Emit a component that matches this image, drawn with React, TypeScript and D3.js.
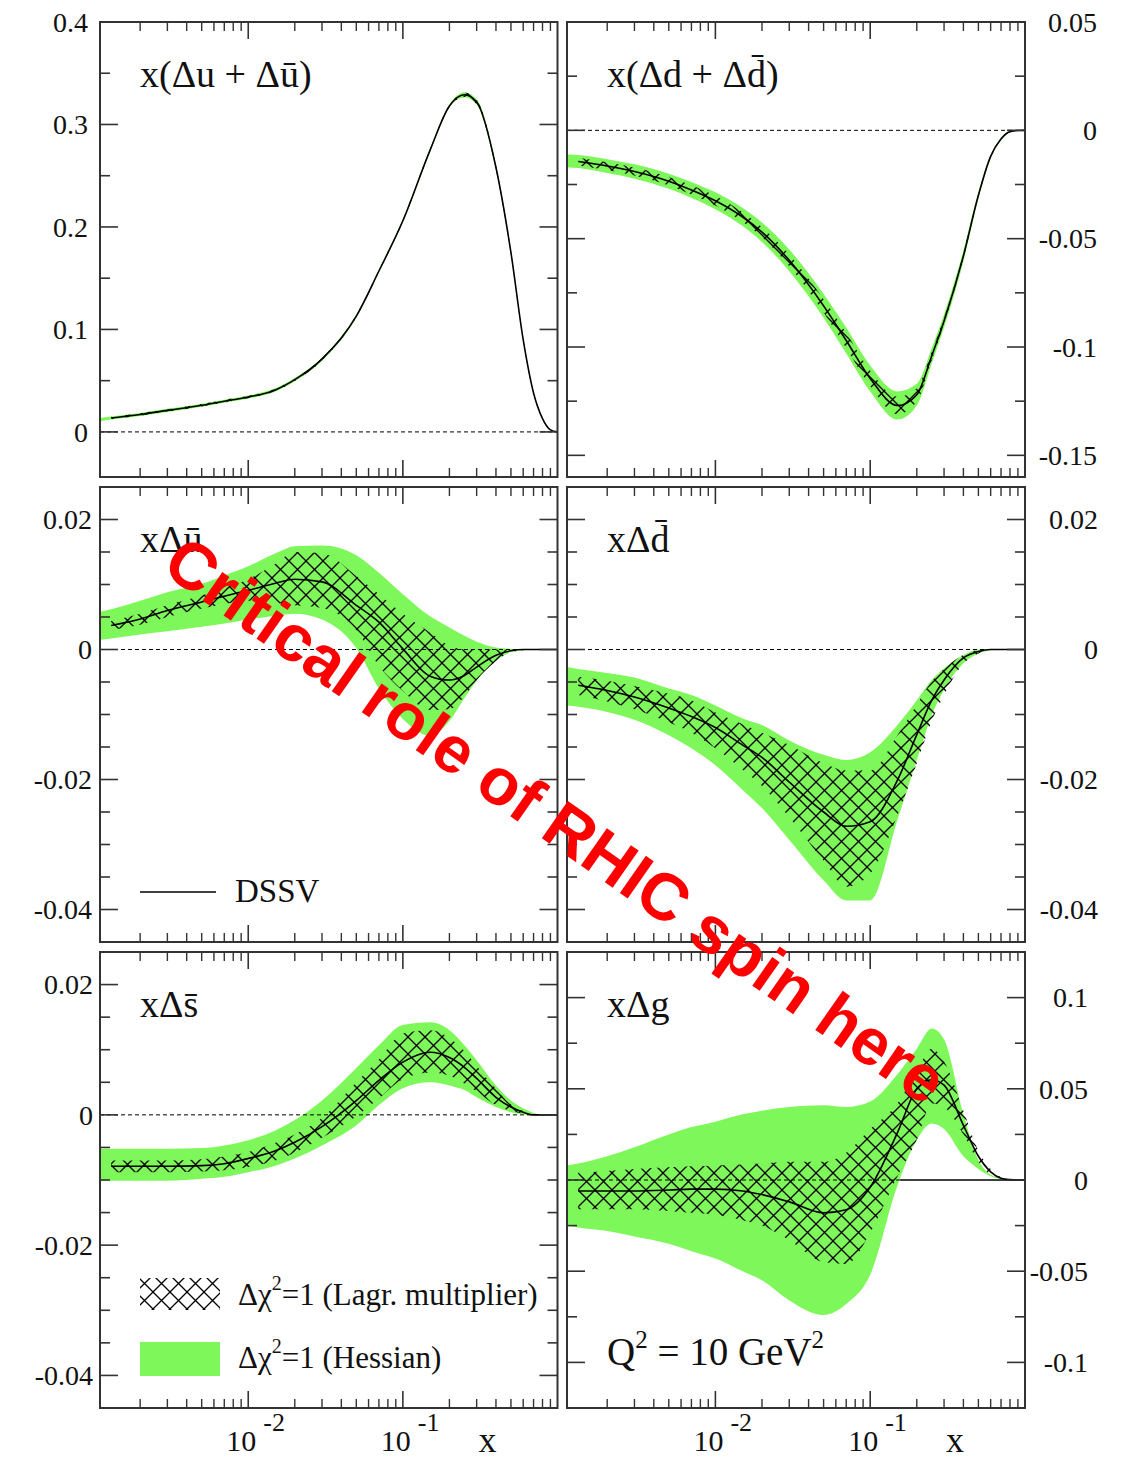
import React from "react";
import * as d3 from "d3";

const W = 1121;
const H = 1459;
const GREEN = "#7ef75a";
const SERIF = "'Liberation Serif', 'Times New Roman', serif";

// x grid shared by all panels
const X_GRID = [0.0011, 0.0013, 0.002, 0.003, 0.005, 0.007, 0.01, 0.015, 0.02, 0.03, 0.05, 0.07, 0.1, 0.15, 0.2, 0.25, 0.3, 0.4, 0.5, 0.6, 0.7, 0.8, 0.9, 1.0];
const X_MIN = 0.0011;
const X_MAX = 1;
const X_MAJOR = [0.01, 0.1];
const X_DECADES = [0.001, 0.01, 0.1];

// x(Δu + Δū)
const UU_CENTRAL = [null, 0.0135, 0.017, 0.021, 0.026, 0.03, 0.034, 0.041, 0.051, 0.071, 0.113, 0.157, 0.206, 0.275, 0.318, 0.329, 0.322, 0.258, 0.175, 0.09, 0.038, 0.013, 0.002, 0];
const UU_HESS_HI = [0.0135, 0.015, 0.0185, 0.0225, 0.0275, 0.0315, 0.0355, 0.0425, 0.0525, 0.0725, 0.1145, 0.1585, 0.2075, 0.2765, 0.3195, 0.3315, 0.3245, 0.2605, 0.177, 0.0915, 0.039, 0.0135, 0.0023, 0];
const UU_HESS_LO = [0.0105, 0.012, 0.0155, 0.0195, 0.0245, 0.0285, 0.0325, 0.0395, 0.0495, 0.0695, 0.1115, 0.1555, 0.2045, 0.2735, 0.3165, 0.3265, 0.3195, 0.2555, 0.173, 0.0885, 0.037, 0.0125, 0.0017, 0];
const UU_LAGR_HI = [null, 0.0147, 0.0182, 0.0222, 0.0272, 0.0312, 0.0352, 0.0422, 0.0522, 0.0722, 0.1142, 0.1582, 0.2072, 0.2762, 0.3192, 0.3312, 0.3242, 0.2602, 0.1765, 0.0912, 0.0388, 0.0134, 0.0023, 0];
const UU_LAGR_LO = [null, 0.0123, 0.0158, 0.0198, 0.0248, 0.0288, 0.0328, 0.0398, 0.0498, 0.0698, 0.1118, 0.1558, 0.2048, 0.2738, 0.3168, 0.3268, 0.3198, 0.2558, 0.1735, 0.0888, 0.0372, 0.0126, 0.0017, 0];

// x(Δd + Δd̄)
const DD_CENTRAL = [null, -0.0144, -0.0165, -0.019, -0.0235, -0.0275, -0.0325, -0.04, -0.047, -0.06, -0.081, -0.097, -0.1145, -0.127, -0.122, -0.104, -0.088, -0.058, -0.03, -0.012, -0.004, -0.0006, -0.0001, 0];
const DD_HESS_HI = [-0.011, -0.0114, -0.0133, -0.0157, -0.02, -0.0238, -0.0286, -0.0358, -0.0425, -0.055, -0.0755, -0.091, -0.1085, -0.1205, -0.117, -0.1005, -0.085, -0.0555, -0.0285, -0.0112, -0.0035, -0.0004, 0, 0];
const DD_HESS_LO = [-0.017, -0.0174, -0.0197, -0.0223, -0.027, -0.0312, -0.0364, -0.0442, -0.0515, -0.065, -0.0865, -0.103, -0.1205, -0.1335, -0.127, -0.1075, -0.091, -0.0605, -0.0315, -0.0128, -0.0045, -0.0008, -0.0002, 0];
const DD_LAGR_HI = [null, -0.0126, -0.0147, -0.0171, -0.0215, -0.0254, -0.0303, -0.0378, -0.0447, -0.0573, -0.078, -0.0935, -0.111, -0.123, -0.119, -0.102, -0.0865, -0.0568, -0.0292, -0.0116, -0.0037, -0.0005, -0.0001, 0];
const DD_LAGR_LO = [null, -0.0162, -0.0183, -0.0209, -0.0255, -0.0296, -0.0347, -0.0422, -0.0493, -0.0627, -0.084, -0.1005, -0.118, -0.131, -0.125, -0.106, -0.0895, -0.0592, -0.0308, -0.0124, -0.0043, -0.0007, -0.0001, 0];

// xΔū
const UB_CENTRAL = [null, 0.0037, 0.0047, 0.006, 0.0073, 0.0082, 0.0091, 0.0102, 0.0108, 0.0104, 0.0068, 0.0042, 0.0001, -0.0041, -0.0047, -0.004, -0.0027, -0.0009, -0.0002, 0, 0, 0, 0, 0];
const UB_HESS_HI = [0.0058, 0.0062, 0.0075, 0.0088, 0.0101, 0.0114, 0.0128, 0.0148, 0.0159, 0.016, 0.0145, 0.0118, 0.0085, 0.0051, 0.0034, 0.0021, 0.0012, 0.0003, 0.0001, 0, 0, 0, 0, 0];
const UB_HESS_LO = [0.0015, 0.0017, 0.0023, 0.0028, 0.0035, 0.004, 0.0046, 0.0052, 0.0055, 0.0046, 0.0002, -0.006, -0.0107, -0.0133, -0.011, -0.0075, -0.0048, -0.0017, -0.0004, -0.0001, 0, 0, 0, 0];
const UB_LAGR_HI = [null, 0.0044, 0.0055, 0.0068, 0.0083, 0.0095, 0.0108, 0.0132, 0.015, 0.0148, 0.0113, 0.0085, 0.0055, 0.0026, 0.0006, 0, 0, 0, 0, 0, 0, 0, 0, 0];
const UB_LAGR_LO = [null, 0.003, 0.0038, 0.005, 0.0063, 0.007, 0.0075, 0.0072, 0.0068, 0.0064, 0.003, -0.0025, -0.0064, -0.0093, -0.0092, -0.0072, -0.0047, -0.0018, -0.0004, -0.0001, 0, 0, 0, 0];

// xΔd̄
const DB_CENTRAL = [null, -0.0055, -0.0063, -0.0073, -0.009, -0.0103, -0.012, -0.0147, -0.0166, -0.0204, -0.025, -0.0272, -0.0265, -0.0201, -0.0131, -0.0078, -0.0047, -0.0013, -0.0003, 0, 0, 0, 0, 0];
const DB_HESS_HI = [-0.0027, -0.003, -0.0036, -0.0043, -0.006, -0.007, -0.0086, -0.0106, -0.0116, -0.014, -0.0162, -0.017, -0.0158, -0.0116, -0.0078, -0.0047, -0.0029, -0.0009, 0, 0, 0, 0, 0, 0];
const DB_HESS_LO = [-0.0086, -0.0088, -0.0096, -0.0108, -0.0132, -0.0152, -0.0178, -0.0216, -0.0244, -0.0293, -0.0355, -0.0386, -0.0386, -0.0262, -0.017, -0.0101, -0.0062, -0.0021, -0.0006, -0.0001, 0, 0, 0, 0];
const DB_LAGR_HI = [null, -0.0042, -0.0048, -0.0056, -0.0068, -0.0078, -0.0097, -0.0115, -0.0128, -0.0147, -0.0175, -0.0186, -0.0186, -0.0132, -0.0085, -0.0049, -0.003, -0.0008, -0.0001, 0, 0, 0, 0, 0];
const DB_LAGR_LO = [null, -0.007, -0.008, -0.0092, -0.0112, -0.0128, -0.0152, -0.0185, -0.021, -0.0258, -0.0325, -0.0365, -0.0345, -0.0255, -0.0175, -0.011, -0.007, -0.0022, -0.0006, 0, 0, 0, 0, 0];

// xΔs̄
const SB_CENTRAL = [null, -0.0079, -0.0079, -0.0079, -0.0078, -0.0075, -0.0067, -0.0055, -0.0042, -0.0018, 0.0022, 0.0053, 0.0081, 0.0096, 0.0088, 0.0073, 0.0056, 0.0027, 0.0012, 0.0004, 0, 0, 0, 0];
const SB_HESS_HI = [-0.0052, -0.0052, -0.0052, -0.0052, -0.0051, -0.0047, -0.0039, -0.0024, -0.0008, 0.0022, 0.0072, 0.0107, 0.0138, 0.0142, 0.013, 0.0107, 0.0084, 0.0045, 0.0022, 0.001, 0.0003, 0, 0, 0];
const SB_HESS_LO = [-0.0101, -0.0101, -0.0101, -0.0101, -0.0098, -0.0095, -0.0088, -0.0078, -0.0067, -0.0047, -0.0016, 0.0015, 0.0041, 0.005, 0.0045, 0.0038, 0.0027, 0.0012, 0.0004, 0.0001, 0, 0, 0, 0];
const SB_LAGR_HI = [null, -0.007, -0.007, -0.007, -0.0068, -0.0064, -0.0057, -0.0043, -0.003, -0.0005, 0.005, 0.0085, 0.0125, 0.013, 0.0118, 0.0098, 0.0075, 0.004, 0.0016, 0.0006, 0.0001, 0, 0, 0];
const SB_LAGR_LO = [null, -0.0088, -0.0088, -0.0088, -0.0087, -0.0085, -0.008, -0.007, -0.0058, -0.0035, -0.0002, 0.0025, 0.0055, 0.0065, 0.006, 0.0048, 0.0036, 0.0015, 0.0006, 0.0002, 0, 0, 0, 0];

// xΔg
const G_CENTRAL = [null, -0.006, -0.006, -0.006, -0.0055, -0.005, -0.005, -0.006, -0.008, -0.012, -0.018, -0.0163, -0.004, 0.026, 0.05, 0.055, 0.052, 0.03, 0.013, 0.0045, 0.001, 0.0002, 0, 0];
const G_HESS_HI = [0.008, 0.009, 0.013, 0.018, 0.025, 0.029, 0.032, 0.036, 0.038, 0.04, 0.041, 0.04, 0.043, 0.058, 0.072, 0.083, 0.077, 0.036, 0.011, 0.003, 0.001, 0, 0, 0];
const G_HESS_LO = [-0.025, -0.026, -0.028, -0.031, -0.035, -0.039, -0.043, -0.05, -0.055, -0.066, -0.074, -0.068, -0.052, -0.003, 0.022, 0.031, 0.028, 0.013, 0.006, 0.002, 0.0005, 0, 0, 0];
const G_LAGR_HI = [null, 0.004, 0.005, 0.006, 0.007, 0.0075, 0.008, 0.0085, 0.009, 0.01, 0.01, 0.015, 0.028, 0.042, 0.06, 0.072, 0.065, 0.038, 0.016, 0.006, 0.0015, 0.0003, 0, 0];
const G_LAGR_LO = [null, -0.016, -0.016, -0.016, -0.017, -0.018, -0.019, -0.022, -0.025, -0.033, -0.045, -0.046, -0.029, 0.002, 0.022, 0.042, 0.04, 0.025, 0.01, 0.003, 0.0008, 0, 0, 0];
const G_ZERO_SOLID_FROM = 0.156;

// y ticks
const TICKS_UU = [0, 0.1, 0.2, 0.3, 0.4];
const LABELS_UU = ["0", "0.1", "0.2", "0.3", "0.4"];
const TICKS_DD = [-0.15, -0.1, -0.05, 0, 0.05];
const LABELS_DD = ["-0.15", "-0.1", "-0.05", "0", "0.05"];
const TICKS_SEA = [-0.04, -0.02, 0, 0.02];
const LABELS_SEA = ["-0.04", "-0.02", "0", "0.02"];
const TICKS_G = [-0.1, -0.05, 0, 0.05, 0.1];
const LABELS_G = ["-0.1", "-0.05", "0", "0.05", "0.1"];

const COLS = [{ x0: 100, x1: 557.5 }, { x0: 567, x1: 1025 }];
const ROWS = [{ y0: 22, y1: 477 }, { y0: 487, y1: 942 }, { y0: 952, y1: 1408 }];

const PANELS = [
  { id: "uu", col: 0, row: 0, label: "x(Δu + Δū)", yDomain: [-0.044, 0.4], ticks: TICKS_UU, tickLabels: LABELS_UU, minor: 0.05, labelX: -12,
    central: UU_CENTRAL, hessHi: UU_HESS_HI, hessLo: UU_HESS_LO, lagrHi: UU_LAGR_HI, lagrLo: UU_LAGR_LO },
  { id: "dd", col: 1, row: 0, label: "x(Δd + Δd\u0304)", yDomain: [-0.16, 0.05], ticks: TICKS_DD, tickLabels: LABELS_DD, minor: 0.025, labelX: 72,
    central: DD_CENTRAL, hessHi: DD_HESS_HI, hessLo: DD_HESS_LO, lagrHi: DD_LAGR_HI, lagrLo: DD_LAGR_LO },
  { id: "ub", col: 0, row: 1, label: "xΔū", yDomain: [-0.045, 0.025], ticks: TICKS_SEA, tickLabels: LABELS_SEA, minor: 0.005, labelX: -8,
    central: UB_CENTRAL, hessHi: UB_HESS_HI, hessLo: UB_HESS_LO, lagrHi: UB_LAGR_HI, lagrLo: UB_LAGR_LO },
  { id: "db", col: 1, row: 1, label: "xΔd\u0304", yDomain: [-0.045, 0.025], ticks: TICKS_SEA, tickLabels: LABELS_SEA, minor: 0.005, labelX: 73,
    central: DB_CENTRAL, hessHi: DB_HESS_HI, hessLo: DB_HESS_LO, lagrHi: DB_LAGR_HI, lagrLo: DB_LAGR_LO },
  { id: "sb", col: 0, row: 2, label: "xΔs\u0304", yDomain: [-0.045, 0.025], ticks: TICKS_SEA, tickLabels: LABELS_SEA, minor: 0.005, labelX: -7,
    central: SB_CENTRAL, hessHi: SB_HESS_HI, hessLo: SB_HESS_LO, lagrHi: SB_LAGR_HI, lagrLo: SB_LAGR_LO },
  { id: "g", col: 1, row: 2, label: "xΔg", yDomain: [-0.125, 0.125], ticks: TICKS_G, tickLabels: LABELS_G, minor: 0.025, labelX: 63,
    central: G_CENTRAL, hessHi: G_HESS_HI, hessLo: G_HESS_LO, lagrHi: G_LAGR_HI, lagrLo: G_LAGR_LO },
];

const Panel = ({ p }) => {
  const { x0, x1 } = COLS[p.col];
  const { y0, y1 } = ROWS[p.row];
  const x = d3.scaleLog().domain([X_MIN, X_MAX]).range([x0, x1]);
  const y = d3.scaleLinear().domain(p.yDomain).range([y1, y0]);
  const pts = X_GRID.map((xv, i) => ({
    xv, c: p.central[i], hh: p.hessHi[i], hl: p.hessLo[i], lh: p.lagrHi[i], ll: p.lagrLo[i],
  }));

  const hessArea = d3.area().x(d => x(d.xv)).y0(d => y(d.hl)).y1(d => y(d.hh)).curve(d3.curveMonotoneX);
  const lagrArea = d3.area().defined(d => d.ll != null).x(d => x(d.xv)).y0(d => y(d.ll)).y1(d => y(d.lh)).curve(d3.curveMonotoneX);
  const line = d3.line().defined(d => d.c != null).x(d => x(d.xv)).y(d => y(d.c)).curve(d3.curveMonotoneX);

  const [dMin, dMax] = p.yDomain;
  const minorY = d3.range(Math.ceil(dMin / p.minor - 1e-6) * p.minor, dMax + 1e-9, p.minor)
    .filter(v => !p.ticks.some(t => Math.abs(t - v) < 1e-9) && v > dMin + 1e-9 && v < dMax - 1e-9);
  const minorX = X_DECADES.flatMap(dec => d3.range(2, 10).map(k => k * dec)).filter(v => v > X_MIN && v < X_MAX);

  const clipId = `clip-${p.id}`;
  const isLeft = p.col === 0;
  const zeroEnd = p.id === "g" ? x(G_ZERO_SOLID_FROM) : x1;

  return (
    <g>
      <defs>
        <clipPath id={clipId}><rect x={x0} y={y0} width={x1 - x0} height={y1 - y0} /></clipPath>
      </defs>
      <g clipPath={`url(#${clipId})`}>
        <path d={hessArea(pts)} fill={GREEN} />
        <path d={lagrArea(pts)} fill="url(#hatch)" />
        <path d={line(pts)} fill="none" stroke="#000" strokeWidth={1.6} />
        <line x1={x0} x2={zeroEnd} y1={y(0)} y2={y(0)} stroke="#000" strokeWidth={1} strokeDasharray="4 3" />
        {p.id === "g" && <line x1={zeroEnd} x2={x1} y1={y(0)} y2={y(0)} stroke="#000" strokeWidth={1.3} />}
      </g>
      <rect x={x0} y={y0} width={x1 - x0} height={y1 - y0} fill="none" stroke="#333" strokeWidth={2} />
      {/* y ticks, both sides */}
      {p.ticks.map(t => (
        <g key={`yt${t}`} stroke="#333" strokeWidth={1.6}>
          <line x1={x0} x2={x0 + 18} y1={y(t)} y2={y(t)} />
          <line x1={x1} x2={x1 - 18} y1={y(t)} y2={y(t)} />
        </g>
      ))}
      {minorY.map(t => (
        <g key={`ym${t}`} stroke="#333" strokeWidth={1.6}>
          <line x1={x0} x2={x0 + 10} y1={y(t)} y2={y(t)} />
          <line x1={x1} x2={x1 - 10} y1={y(t)} y2={y(t)} />
        </g>
      ))}
      {/* x ticks, top and bottom */}
      {X_MAJOR.map(t => (
        <g key={`xt${t}`} stroke="#333" strokeWidth={1.6}>
          <line x1={x(t)} x2={x(t)} y1={y1} y2={y1 - 17} />
          <line x1={x(t)} x2={x(t)} y1={y0} y2={y0 + 17} />
        </g>
      ))}
      {minorX.map(t => (
        <g key={`xm${t}`} stroke="#333" strokeWidth={1.4}>
          <line x1={x(t)} x2={x(t)} y1={y1} y2={y1 - 9} />
          <line x1={x(t)} x2={x(t)} y1={y0} y2={y0 + 9} />
        </g>
      ))}
      {p.ticks.map((t, i) => (
        <text key={`yl${t}`} x={isLeft ? x0 + p.labelX : x1 + p.labelX} y={y(t)} dy="0.35em"
          textAnchor="end" fontFamily={SERIF} fontSize={28} fill="#111">{p.tickLabels[i]}</text>
      ))}
      <text x={x0 + 40} y={y0 + 65} fontFamily={SERIF} fontSize={38} fill="#111">{p.label}</text>
      {p.row === 2 && (
        <g fontFamily={SERIF} fill="#111">
          <text x={x(0.01) + 8} y={1451} textAnchor="end" fontSize={30}>10</text>
          <text x={x(0.01) + 15} y={1431} fontSize={26}>-2</text>
          <text x={x(0.1) + 8} y={1451} textAnchor="end" fontSize={30}>10</text>
          <text x={x(0.1) + 15} y={1431} fontSize={26}>-1</text>
          <text x={x1 - 70} y={1452} textAnchor="middle" fontSize={36}>x</text>
        </g>
      )}
    </g>
  );
};

export default function App() {
  return (
    <svg width={W} height={H} style={{ position: "absolute", left: 0, top: 0, background: "#fff" }}>
      <defs>
        <pattern id="hatch" patternUnits="userSpaceOnUse" width={17} height={17}>
          <path d="M0,0L17,17M17,0L0,17" stroke="#000" strokeWidth={1.3} />
        </pattern>
      </defs>
      <rect width={W} height={H} fill="#fff" />
      {PANELS.map(p => <Panel key={p.id} p={p} />)}

      {/* legends */}
      <g fontFamily={SERIF} fill="#111">
        <line x1={140} x2={216} y1={892} y2={892} stroke="#000" strokeWidth={1.6} />
        <text x={235} y={902} fontSize={33}>DSSV</text>

        <rect x={140} y={1278} width={80} height={32} fill="url(#hatch)" />
        <text x={238} y={1305} fontSize={31}>Δχ<tspan dy={-15} fontSize={20}>2</tspan><tspan dy={15}>=1 (Lagr. multiplier)</tspan></text>
        <rect x={140} y={1342} width={80} height={34} fill={GREEN} />
        <text x={238} y={1368} fontSize={31}>Δχ<tspan dy={-15} fontSize={20}>2</tspan><tspan dy={15}>=1 (Hessian)</tspan></text>

        <text x={607} y={1365} fontSize={39}>Q<tspan dy={-17} fontSize={25}>2</tspan><tspan dy={17}> = 10 GeV</tspan><tspan dy={-17} fontSize={25}>2</tspan></text>
      </g>

      <text x={556} y={820} dy="0.35em" textAnchor="middle" transform="rotate(35 556 820)"
        fontFamily="'Liberation Sans', Arial, sans-serif" fontWeight="bold" fontSize={66} fill="#ff0000">
        Critical role of RHIC spin here
      </text>
    </svg>
  );
}
